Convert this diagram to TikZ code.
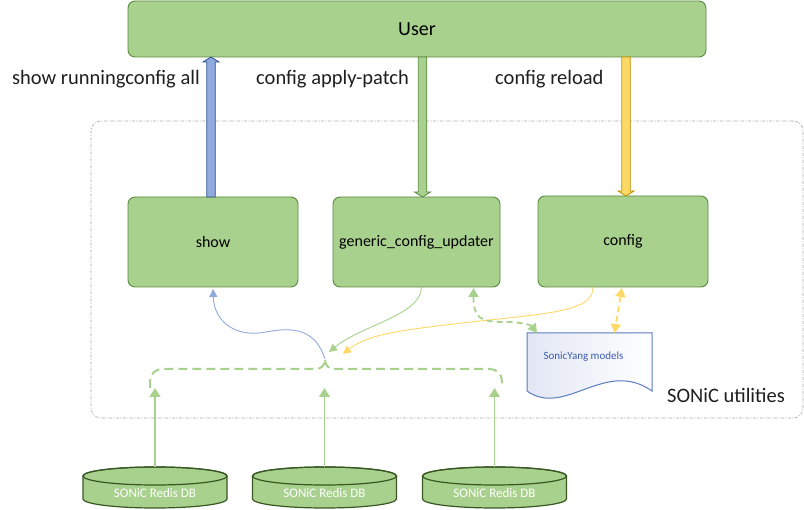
\documentclass[tikz,border=0pt]{standalone}
\usepackage{fontspec}
\setmainfont{Carlito}
\usetikzlibrary{arrows.meta,calc}
\definecolor{gfill}{HTML}{A9D18E}
\definecolor{gdraw}{HTML}{5A8A3E}
\definecolor{bfill}{HTML}{8FAADC}
\definecolor{bdraw}{HTML}{2F528F}
\definecolor{yfill}{HTML}{FFD966}
\definecolor{ydraw}{HTML}{BF9000}
\definecolor{dbdraw}{HTML}{385723}
\definecolor{docblue}{HTML}{5B7BC0}
\definecolor{doctext}{HTML}{3A5BB5}
\definecolor{docfill}{HTML}{E2E7F4}
\definecolor{cgray}{HTML}{A6A6A6}
\newcommand\blockarrow[4]{%
  \filldraw[fill=#3, draw=#4, line width=0.8pt] let \p1=(#1), \p2=(#2), \n1={(\y2-\y1)/abs(\y2-\y1)} in
  (\x2-4.25pt,\y1) -- (\x2-4.25pt,{\y2-(\n1)*5pt}) -- (\x2-8pt,{\y2-(\n1)*5pt}) -- (\x2,\y2)
  -- (\x2+8pt,{\y2-(\n1)*5pt}) -- (\x2+4.25pt,{\y2-(\n1)*5pt}) -- (\x2+4.25pt,\y1) -- cycle;}
\newcommand\dbcyl[1]{%
  \path[dbshape] ($(#1.north west)+(0,9)$) -- ($(#1.south west)+(0,-9)$)
    arc[start angle=180,end angle=360,x radius=72pt,y radius=9pt]
    -- ($(#1.north east)+(0,9)$)
    arc[start angle=0,end angle=180,x radius=72pt,y radius=9pt] -- cycle;
  \draw[dbshape,fill=none] ($(#1.north)+(0,9)$) ellipse[x radius=72pt,y radius=9pt];}
\begin{document}
\begin{tikzpicture}[x=1pt,y=-1pt,
  greenbox/.style={draw=gdraw, fill=gfill, line width=0.9pt, rounded corners=7pt,
    inner sep=0pt, outer sep=0pt, font=\fontsize{16}{19}\selectfont},
  biglabel/.style={font=\fontsize{20.5}{24}\selectfont, text=black!88, inner sep=0pt},
  container/.style={draw=cgray, line width=0.6pt, rounded corners=10pt,
    dash pattern=on 3pt off 1.5pt on 1pt off 1.5pt, inner sep=0pt},
  dbbox/.style={minimum width=144pt, minimum height=41pt, inner sep=0pt, outer sep=0pt},
  dbshape/.style={fill=gfill, draw=dbdraw, line width=1.2pt},
  dbtext/.style={text=white, font=\fontsize{13}{15}\selectfont, inner sep=0pt},
  tip/.style={-{Triangle[width=8pt,length=8pt]}},
  flowb/.style={draw=bfill, line width=0.9pt, -{Triangle[width=8pt,length=8pt]}},
  flowg/.style={draw=gfill, line width=0.9pt, -{Triangle[width=8pt,length=8pt]}},
  flowy/.style={draw=yfill, line width=0.9pt, -{Triangle[width=8pt,length=8pt]}},
  dashg/.style={draw=gfill, line width=1.8pt, dash pattern=on 6pt off 4pt,
    {Triangle[width=10pt,length=9pt]}-{Triangle[width=10pt,length=9pt]}},
  dashy/.style={draw=yfill, line width=1.8pt, dash pattern=on 6pt off 4pt,
    {Triangle[width=10pt,length=9pt]}-{Triangle[width=10pt,length=9pt]}},
  bracket/.style={draw=gfill, line width=2pt, dash pattern=on 9pt off 5pt},
  dbarrow/.style={draw=gfill, line width=1.4pt, -{Triangle[width=11pt,length=9pt]}}
]
\useasboundingbox (0,0) rectangle (804,510);

% container
\node[container, minimum width=712pt, minimum height=297pt] (utils) at (447,269.5) {};
\node[biglabel] (lutil) at (726,395) {SONiC utilities};

% top box and labels
\node[greenbox, minimum width=578pt, minimum height=56pt, font=\fontsize{20}{24}\selectfont] (user) at (417,29) {User};
\node[biglabel, anchor=west] (lshow) at (12,79) {show runningconfig all};
\node[biglabel, anchor=west] (lapply) at (256,79) {config apply-patch};
\node[biglabel, anchor=west] (lreload) at (495,79) {config reload};

% utility boxes
\node[greenbox, minimum width=170pt, minimum height=90pt] (show) at (213,242) {show};
\node[greenbox, minimum width=167pt, minimum height=90pt] (gcu) at (416.5,242) {generic\_config\_updater};
\node[greenbox, minimum width=170pt, minimum height=91pt] (config) at (623,241.5) {config};

% block arrows
\coordinate (bA) at ($(show.north)+(-2,0)$);
\coordinate (gA) at ($(gcu.north)+(6,0)$);
\coordinate (yA) at ($(config.north)+(3,0)$);
\blockarrow{bA}{bA |- user.south}{bfill}{bdraw}
\blockarrow{gA |- user.south}{gA}{gfill}{gdraw}
\blockarrow{yA |- user.south}{yA}{yfill}{ydraw}

% SonicYang document
\node[minimum width=125pt, minimum height=58pt, inner sep=0pt, outer sep=0pt] (yang) at (589.5,362) {};
\path[draw=docblue, line width=1pt, left color=docfill, right color=white]
  (yang.south west) -- (yang.north west) -- (yang.north east) -- (yang.south east)
  .. controls +(-47,-33) and +(38,27) .. (yang.south west) -- cycle;
\node[text=doctext, font=\fontsize{11}{13}\selectfont, inner sep=0pt] (yangt) at ($(yang)+(-6,-5)$) {SonicYang models};

% bracket
\coordinate (jn) at (325,359);
\coordinate (bl) at (150,388);
\coordinate (br) at (502,385);
\draw[bracket] (bl) -- (150,381) arc[start angle=180,end angle=90,radius=12pt]
  -- (315,369) .. controls (322,369) and (325,365) .. (jn)
  .. controls (325,365) and (328,369) .. (335,369)
  -- (490,369) arc[start angle=90,end angle=0,radius=12pt] -- (br);

% thin flows
\coordinate (jg) at (329,352);
\coordinate (jy) at (343,354);
\draw[flowb, shorten >=2pt] (jn) .. controls (316,331) and (296,326) .. (266,332)
  .. controls (236,338) and (214,322) .. (show.south);
\draw[flowg] ($(gcu.south)+(5,0)$) .. controls +(0,28) and (362,325) .. (jg);
\draw[flowy] ($(config.south)+(-30,0)$) .. controls +(1,23) and (555,313) .. (480,321)
  .. controls (400,330) and (368,334) .. (jy);

% dashed double arrows to the models
\draw[dashg, shorten <=1pt] ($(gcu.south)+(57,0)$) .. controls +(0,31) and (480,322) .. (505,322)
  .. controls (522,322) and (531,325) .. ($(yang.north west)+(10,0)$);
\draw[dashy, shorten <=1pt] ($(config.south)+(-1,0)$) -- ($(yang.north)+(25,0)$);

% databases
\node[dbbox] (db1) at (155,487.5) {};
\node[dbbox] (db2) at (324.5,487.5) {};
\node[dbbox] (db3) at (494.5,487.5) {};
\dbcyl{db1}
\dbcyl{db2}
\dbcyl{db3}
\node[dbtext] (db1t) at ($(db1)+(0,5.5)$) {SONiC Redis DB};
\node[dbtext] (db2t) at ($(db2)+(0,5.5)$) {SONiC Redis DB};
\node[dbtext] (db3t) at ($(db3)+(0,5.5)$) {SONiC Redis DB};
\draw[dbarrow] (db1.north) -- (db1.north |- bl);
\draw[dbarrow] (db2.north) -- (db2.north |- bl);
\draw[dbarrow] (db3.north) -- (db3.north |- bl);
\end{tikzpicture}
\end{document}
